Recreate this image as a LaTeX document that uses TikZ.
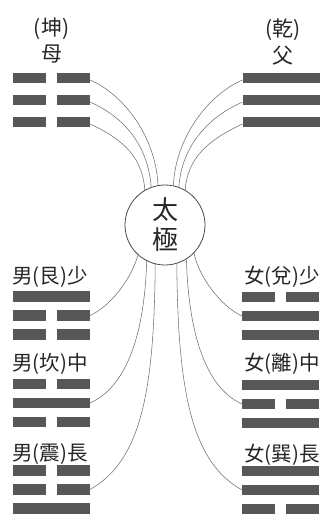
\documentclass[tikz,border=0pt]{standalone}
\usepackage{fontspec}
\newfontfamily\cjk{Noto Sans CJK TC}
\definecolor{barc}{HTML}{575757}
\definecolor{txtc}{HTML}{262626}
\definecolor{linkc}{HTML}{707070}
\definecolor{circc}{HTML}{4A4A4A}
\newcommand\yangbar[3]{\node[fullbar] (#1) at (#2,#3) {};}
\newcommand\yinbar[3]{\node[halfbar] (#1a) at (#2-22,#3) {};\node[halfbar] (#1b) at (#2+22,#3) {};}
\begin{document}
\begin{tikzpicture}[x=1pt,y=-1pt,
  barbase/.style={rectangle,fill=barc,draw=none,minimum height=10.5pt,inner sep=0pt,outer sep=0pt},
  fullbar/.style={barbase,minimum width=77pt},
  halfbar/.style={barbase,minimum width=33pt},
  lbl/.style={font=\cjk\fontsize{20.5}{20.5}\selectfont,text=txtc,inner sep=0pt},
  toplbl/.style={font=\cjk\fontsize{21}{21}\selectfont,text=txtc,inner sep=0pt},
  biglbl/.style={font=\cjk\fontsize{26}{26}\selectfont,text=txtc,inner sep=0pt},
  link/.style={draw=linkc,line width=0.55pt}]
\useasboundingbox (0,0) rectangle (322,514);

% top labels
\node[toplbl] (kunname) at (51.5,29) {(坤)};
\node[toplbl] (mu) at (51.5,54) {母};
\node[toplbl] (qianname) at (283,30) {(乾)};
\node[toplbl] (fu) at (283,56) {父};

% Kun (top left)
\yinbar{kun1}{51.5}{78}
\yinbar{kun2}{51.5}{100}
\yinbar{kun3}{51.5}{122}
% Qian (top right)
\yangbar{qian1}{281}{78}
\yangbar{qian2}{281}{100}
\yangbar{qian3}{281}{122}

% Taiji circle
\node[circle,draw=circc,line width=0.8pt,minimum size=80pt,inner sep=0pt] (tj) at (165,225) {};
\node[biglbl] (tai) at (165,210) {太};
\node[biglbl] (ji) at (165,240) {極};

% bottom-left labels and trigrams
\node[lbl,anchor=west] (genlbl) at (12,277) {男(艮)少};
\yangbar{gen1}{51.5}{296.5}
\yinbar{gen2}{51.5}{315.5}
\yinbar{gen3}{51.5}{334.5}
\node[lbl,anchor=west] (kanlbl) at (12,364) {男(坎)中};
\yinbar{kan1}{51.5}{384}
\yangbar{kan2}{51.5}{403}
\yinbar{kan3}{51.5}{422}
\node[lbl,anchor=west] (zhenlbl) at (12,454) {男(震)長};
\yinbar{zhen1}{51.5}{470.5}
\yinbar{zhen2}{51.5}{489.5}
\yangbar{zhen3}{51.5}{508.5}

% bottom-right labels and trigrams
\node[lbl,anchor=east] (duilbl) at (320,277) {女(兌)少};
\yinbar{dui1}{280.5}{297}
\yangbar{dui2}{280.5}{316}
\yangbar{dui3}{280.5}{335}
\node[lbl,anchor=east] (lilbl) at (320,364) {女(離)中};
\yangbar{li1}{280.5}{385}
\yinbar{li2}{280.5}{404}
\yangbar{li3}{280.5}{423}
\node[lbl,anchor=east] (xunlbl) at (320,455) {女(巽)長};
\yangbar{xun1}{280.5}{471}
\yangbar{xun2}{280.5}{490}
\yinbar{xun3}{280.5}{509}

% connectors top-left
\draw[link] ([yshift=-2pt]kun1b.east) .. controls +(35,15) and +(-2,-47) .. (tj.100);
\draw[link] ([yshift=-2pt]kun2b.east) .. controls +(36,16) and +(-3,-40) .. (tj.110);
\draw[link] ([yshift=-2pt]kun3b.east) .. controls +(35,16) and +(-2,-31) .. (tj.120);
% connectors top-right
\draw[link] ([yshift=-2pt]qian1.west) .. controls +(-35,15) and +(2,-47) .. (tj.78);
\draw[link] ([yshift=-2pt]qian2.west) .. controls +(-36,16) and +(3,-40) .. (tj.70);
\draw[link] ([yshift=-2pt]qian3.west) .. controls +(-35,16) and +(2,-31) .. (tj.60);
% connectors bottom-left
\draw[link] (tj.228) .. controls +(-6,22) and +(22,-10) .. (gen2b.east);
\draw[link] (tj.243) .. controls +(-2,70) and +(38,-17) .. (kan2.east);
\draw[link] (tj.256) .. controls +(-1,130) and +(50,-28) .. (zhen2b.east);
% connectors bottom-right
\draw[link] (tj.-44) .. controls +(4,22) and +(-22,-10) .. (dui2.west);
\draw[link] (tj.-58) .. controls +(2,70) and +(-38,-17) .. (li2a.west);
\draw[link] (tj.-73) .. controls +(1,130) and +(-50,-28) .. (xun2.west);
\end{tikzpicture}
\end{document}
